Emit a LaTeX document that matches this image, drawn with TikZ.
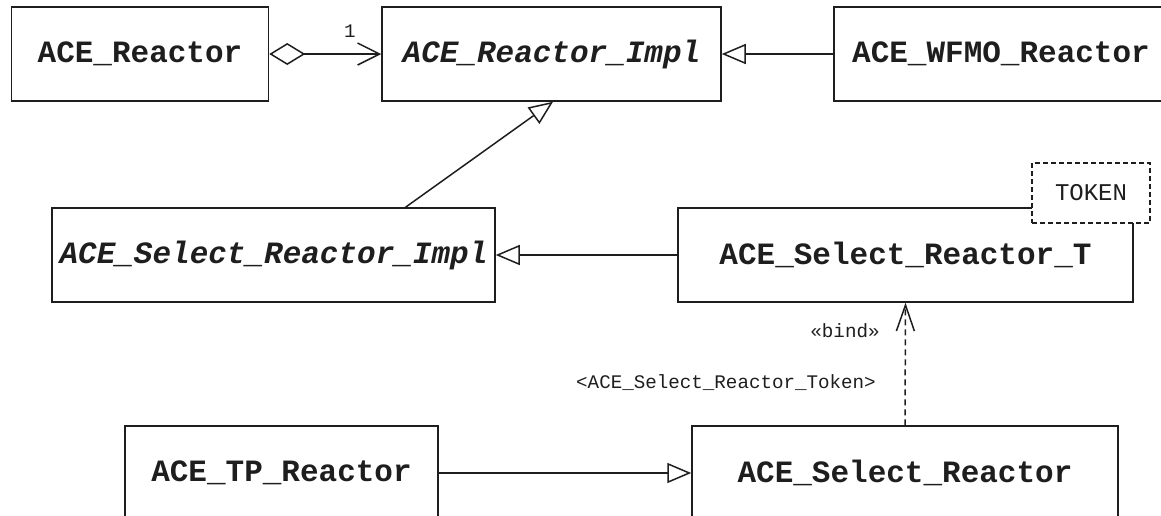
\documentclass[tikz,border=0pt]{standalone}
\usepackage{fontspec}
\usepackage{tikz}
\usetikzlibrary{arrows.meta}
\setmonofont{Liberation Mono}
\definecolor{ink}{HTML}{1E1E1E}
\newcommand{\classfont}{\fontsize{15.5}{18}\selectfont\ttfamily\bfseries}
\newcommand{\abstractfont}{\classfont\itshape}
\newcommand{\tagfont}{\fontsize{9.6}{11}\selectfont\ttfamily}
\newcommand{\paramfont}{\fontsize{12}{14}\selectfont\ttfamily}

\begin{document}
\begin{tikzpicture}[x=0.5pt, y=-0.5pt, color=ink, line width=0.75pt,
  classbox/.style={draw, fill=white, inner sep=0pt, minimum height=47pt, font=\classfont},
  abstractbox/.style={classbox, font=\abstractfont},
  parambox/.style={draw, fill=white, dash pattern=on 2.5pt off 1.5pt, inner sep=0pt,
                   minimum width=59pt, minimum height=30pt, font=\paramfont},
  tag/.style={inner sep=0pt, font=\tagfont},
  inherits/.style={-{Triangle[open, length=12pt, width=10pt]}},
  holds/.style={{Diamond[open, length=18pt, width=11pt]}-{Straight Barb[length=11pt, width=11pt]}},
  binds/.style={dash pattern=on 3pt off 2pt, -{Straight Barb[length=13pt, width=9pt]}}]
\useasboundingbox (0,0) rectangle (1161,515);
\clip (0,0) rectangle (1161,515);

\node[classbox, minimum width=128.5pt] (reactor) at (140,54) {ACE\_Reactor};
\node[abstractbox, minimum width=169.5pt] (impl) at (551.5,54) {ACE\_Reactor\_Impl};
\node[classbox, minimum width=167pt] (wfmo) at (1001,54) {ACE\_WFMO\_Reactor};

\node[abstractbox, minimum width=221.5pt] (selimpl) at (273.5,255) {ACE\_Select\_Reactor\_Impl};
\node[classbox, minimum width=227.5pt] (selt) at (905.5,255) {ACE\_Select\_Reactor\_T};
\node[parambox] (token) at (1091,193) {TOKEN};

\node[classbox, minimum width=156.5pt] (tp) at (281.5,473) {ACE\_TP\_Reactor};
\node[classbox, minimum width=213pt] (select) at (905,473) {ACE\_Select\_Reactor};

\draw[holds] (reactor) -- (impl);
\node[tag] (mult) at (350,31) {1};
\draw[inherits] (wfmo) -- (impl);
\draw[inherits] ([xshift=66pt]selimpl.north) -- ([xshift=0.75pt]impl.south);
\draw[inherits] (selt) -- (selimpl);
\draw[inherits] (tp) -- (select);
\draw[binds] (select.north) -- (selt.south);
\node[tag] (bind) at (845,331) {«bind»};
\node[tag] (arg) at (726,383) {<ACE\_Select\_Reactor\_Token>};
\end{tikzpicture}
\end{document}
